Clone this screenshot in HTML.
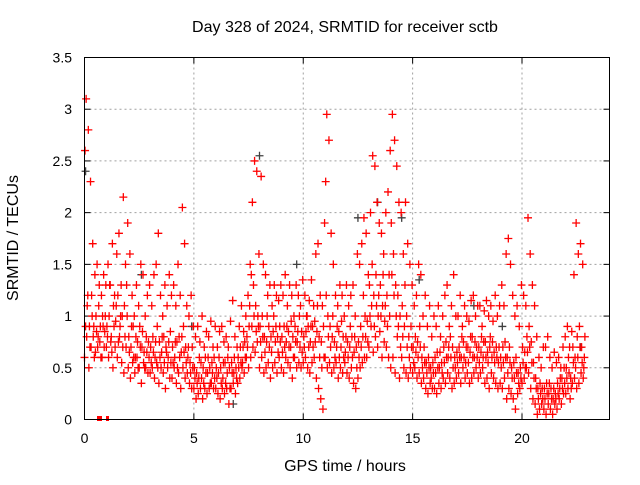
<!DOCTYPE html>
<html><head><meta charset="utf-8"><style>
body{margin:0;background:#fff}
svg text{font-family:"Liberation Sans",sans-serif;font-size:14px;fill:#000}
svg text.big{font-size:16px}
</style></head><body>
<svg id="chart" width="640" height="480" viewBox="0 0 640 480">
<rect width="640" height="480" fill="#fff"/>
<text class="big" x="345" y="32" text-anchor="middle">Day 328 of 2024, SRMTID for receiver sctb</text>
<text class="big" x="345" y="471" text-anchor="middle">GPS time / hours</text>
<text class="big" transform="translate(18,238) rotate(-90)" text-anchor="middle">SRMTID / TECUs</text>
<g id="grid"></g>
<g id="ticks"></g>
<g id="points"></g>
<rect x="84.5" y="57.5" width="525" height="362" fill="none" stroke="#000"/>
</svg>
<script>
const xTicks=[0,5,10,15,20];
const yTicks=[0,0.5,1,1.5,2,2.5,3,3.5];
const yTickLabels=["0","0.5","1","1.5","2","2.5","3","3.5"];
const vHigh=[3.1,2.8,2.3,1.7,1.4,1.5,1.3,1.2,1.4,1.3,
1.5,1.3,1.7,1.2,1.6,1.8,1.3,2.15,1.5,1.9,
1.6,1.2,1.0,1.3,1.1,1.5,1.4,1.0,1.2,1.3,
1.1,1.4,1.5,1.8,1.2,1.0,1.3,1.1,1.4,1.2,
1.3,1.1,1.5,1.2,2.05,1.7,1.1,1.0,1.2,0.9,
0.8,0.9,0.75,1.0,0.7,0.85,0.8,0.95,0.7,0.9,
0.7,0.85,0.9,0.75,0.8,0.7,0.95,1.15,0.8,0.7,
0.9,1.1,0.85,1.0,1.2,1.5,2.1,2.5,2.4,1.6,
2.35,1.5,1.4,1.2,1.3,1.1,1.3,1.2,1.15,1.3,
1.2,1.4,1.1,1.3,1.2,1.0,1.3,1.2,1.1,1.35,
1.2,1.0,1.15,1.35,1.1,1.6,1.7,1.2,1.1,1.9,
2.95,2.7,1.8,1.5,1.2,1.1,1.3,1.2,1.0,1.3,
1.1,1.2,1.3,1.0,1.6,1.5,1.7,1.95,1.8,1.4,
2.0,2.55,2.45,2.1,1.9,1.8,1.6,2.0,2.2,2.6,
2.95,2.7,2.45,2.1,2.0,1.6,2.1,1.7,1.5,1.3,
1.1,1.2,1.5,1.4,1.0,1.2,0.9,1.1,0.8,1.0,
0.9,1.1,0.8,1.0,1.2,1.3,0.9,1.1,1.4,1.0,
1.0,1.2,0.9,1.1,1.0,0.95,1.15,1.2,1.0,1.1,
1.1,0.9,1.05,1.15,1.0,1.1,0.95,1.2,1.0,1.1,
1.3,1.1,1.6,1.75,1.5,1.2,1.0,1.1,0.9,1.3,
1.2,1.1,1.95,1.6,1.3,1.1,0.8,0.6,0.5,0.7,
0.7,0.8,0.6,0.5,0.65,0.55,0.6,0.5,0.7,0.8,
0.9,0.7,0.85,1.4,1.9,1.6,1.7,1.5,0.8];
const vMid=[2.6,1.1,0.9,1.2,0.9,1.0,0.8,0.9,1.0,0.85,
0.9,1.0,0.8,1.1,0.95,1.2,0.9,1.0,1.1,1.3,
0.8,0.7,0.9,0.6,0.75,0.9,0.7,0.65,0.8,0.75,
0.7,0.8,0.6,0.9,0.75,0.65,0.8,0.7,0.6,0.85,
0.7,0.6,0.75,0.8,0.65,0.9,0.7,0.6,0.55,0.7,
0.5,0.45,0.4,0.55,0.5,0.6,0.45,0.5,0.55,0.6,
0.5,0.45,0.5,0.4,0.55,0.45,0.5,0.55,0.45,0.5,
0.6,0.7,0.55,0.75,0.8,0.9,1.4,1.3,1.1,1.0,
0.9,1.0,0.8,0.75,0.9,0.8,0.85,0.75,0.8,0.9,
0.8,0.9,0.75,0.85,0.7,0.8,0.9,0.75,1.0,0.85,
0.8,0.85,0.9,0.75,0.9,0.95,0.85,0.8,0.75,0.9,
2.3,1.0,0.9,0.8,0.75,0.7,0.85,0.7,0.8,0.65,
0.75,0.7,0.8,0.65,0.7,0.75,0.9,0.8,1.0,0.95,
1.3,1.1,1.2,1.4,1.0,1.3,1.1,0.95,1.2,1.4,
1.9,1.6,1.3,1.2,1.0,1.1,0.9,1.0,0.8,0.9,
0.7,0.8,0.75,0.9,0.6,0.7,0.55,0.6,0.5,0.55,
0.6,0.65,0.5,0.55,0.7,0.75,0.6,0.8,0.7,0.6,
0.65,0.7,0.6,0.75,0.55,0.7,0.65,0.8,0.6,0.7,
0.7,0.65,0.6,0.75,0.65,0.7,0.6,0.65,0.7,0.55,
0.6,0.7,0.75,0.6,0.7,0.5,0.55,0.6,0.45,0.5,
0.7,0.65,0.8,0.9,0.75,0.55,0.4,0.3,0.35,0.3,
0.3,0.35,0.25,0.3,0.2,0.25,0.35,0.3,0.4,0.5,
0.5,0.6,0.4,0.7,0.6,0.8,0.9,0.7,0.5];
const vMid2=[0.9,1.2,0.7,1.0,0.6,0.85,1.1,0.6,0.9,1.0,
0.8,1.3,0.65,0.9,1.1,0.75,1.0,0.7,0.8,1.0,
0.65,0.9,0.6,0.8,0.5,0.7,0.85,0.5,0.65,0.6,
0.55,0.65,0.75,0.5,0.6,0.8,0.55,0.65,0.75,0.55,
0.55,0.75,0.5,0.6,0.8,0.65,0.55,0.7,0.45,0.5,
0.4,0.35,0.6,0.4,0.35,0.45,0.6,0.35,0.45,0.4,
0.4,0.6,0.35,0.55,0.35,0.6,0.3,0.45,0.6,0.4,
0.5,0.55,0.7,0.6,0.7,1.1,0.9,1.0,0.85,0.9,
0.75,0.8,0.65,1.0,0.7,0.65,1.0,0.9,0.65,0.75,
0.65,0.7,0.9,0.7,0.95,0.6,0.75,0.85,0.7,0.65,
0.7,1.0,0.7,0.9,0.7,0.75,1.1,0.6,0.5,0.6,
1.2,0.8,0.7,1.0,0.6,0.9,0.6,0.95,0.6,0.8,
0.6,0.9,0.6,0.8,0.5,0.6,0.7,1.2,0.8,0.75,
1.0,1.5,0.9,1.1,1.2,1.0,1.4,1.1,0.9,1.0,
1.4,1.2,1.0,0.9,0.7,0.8,1.3,0.7,0.6,0.7,
0.55,0.65,0.6,0.7,0.5,0.55,0.45,0.5,0.4,0.45,
0.45,0.5,0.65,0.45,0.55,0.6,0.7,0.6,0.5,0.5,
0.55,0.6,0.8,0.6,0.7,0.55,0.8,0.6,0.75,0.6,
0.55,0.8,0.75,0.6,0.55,0.8,0.75,0.55,0.6,0.7,
0.5,0.55,0.6,0.45,0.55,0.4,0.4,0.45,0.35,0.4,
0.55,0.5,0.65,0.7,0.55,0.4,0.3,0.2,0.25,0.2,
0.2,0.25,0.35,0.2,0.3,0.2,0.25,0.4,0.3,0.35,
0.4,0.45,0.3,0.55,0.5,0.6,0.7,0.55,0.6];
const vLow=[0.6,0.8,0.5,0.7,0.8,0.65,0.7,0.75,0.6,0.7,
0.7,0.6,0.75,0.5,0.7,0.6,0.8,0.55,0.45,0.7,
0.5,0.4,0.55,0.45,0.6,0.5,0.35,0.55,0.5,0.45,
0.45,0.5,0.4,0.55,0.35,0.5,0.45,0.3,0.5,0.4,
0.4,0.5,0.35,0.45,0.3,0.5,0.4,0.45,0.35,0.3,
0.3,0.2,0.25,0.3,0.2,0.3,0.25,0.3,0.35,0.3,
0.3,0.25,0.2,0.3,0.25,0.3,0.15,0.3,0.35,0.25,
0.35,0.4,0.5,0.45,0.6,0.5,0.6,0.7,0.65,0.75,
0.5,0.6,0.45,0.5,0.55,0.4,0.5,0.55,0.45,0.6,
0.5,0.45,0.6,0.55,0.5,0.4,0.6,0.5,0.55,0.5,
0.55,0.6,0.5,0.45,0.55,0.6,0.4,0.3,0.2,0.1,
0.6,0.5,0.55,0.45,0.5,0.55,0.4,0.5,0.45,0.55,
0.45,0.4,0.5,0.35,0.3,0.4,0.5,0.55,0.6,0.6,
0.7,0.9,0.65,0.8,0.7,0.85,0.6,0.75,0.7,0.6,
0.5,0.6,0.45,0.8,0.4,0.6,0.5,0.45,0.4,0.5,
0.45,0.5,0.4,0.45,0.35,0.4,0.3,0.25,0.35,0.3,
0.3,0.25,0.35,0.3,0.4,0.35,0.45,0.4,0.3,0.35,
0.4,0.45,0.35,0.5,0.4,0.45,0.35,0.4,0.45,0.5,
0.4,0.45,0.5,0.35,0.4,0.3,0.45,0.4,0.35,0.3,
0.35,0.3,0.4,0.2,0.3,0.25,0.2,0.1,0.25,0.3,
0.35,0.4,0.5,0.45,0.3,0.2,0.15,0.05,0.1,0.15,
0.1,0.05,0.15,0.1,0.05,0.15,0.1,0.2,0.15,0.25,
0.25,0.3,0.2,0.35,0.4,0.3,0.35,0.45,0.4];
const grayTimes=[0.05,2.6,4.9,6.8,8.0,9.7,12.5,13.4,14.5,15.3,17.8,19.1,22.7];
const grayValues=[2.4,1.4,0.9,0.15,2.55,1.5,1.95,2.1,1.95,1.35,1.1,0.9,0.7];
const timeStep=0.1;

const X0=84.5,X1=609.5,Y0=419.5,Y1=57.5,XMAX=24,YMAX=3.5;
const xs=h=>X0+(X1-X0)*h/XMAX;
const ys=v=>Y0-(Y0-Y1)*v/YMAX;
const NS="http://www.w3.org/2000/svg";
const grid=document.getElementById('grid'),ticks=document.getElementById('ticks'),pts=document.getElementById('points');
function mk(tag,attrs,parent){const e=document.createElementNS(NS,tag);for(const k in attrs)e.setAttribute(k,attrs[k]);parent.appendChild(e);return e;}
xTicks.forEach((t,i)=>{
  const x=xs(t);
  if(i>0){const g=mk('line',{x1:x,x2:x,y1:Y0,y2:Y1,stroke:'#a0a0a0','stroke-dasharray':'2,3'},grid);
  
  }
  mk('line',{x1:x,x2:x,y1:Y0,y2:Y0-6,stroke:'#000'},ticks);
  mk('line',{x1:x,x2:x,y1:Y1,y2:Y1+6,stroke:'#000'},ticks);
  const tx=mk('text',{x:x,y:443,'text-anchor':'middle'},ticks);tx.textContent=String(t);
  
  
});
yTicks.forEach((t,i)=>{
  const y=ys(t);
  if(i>0&&i<yTicks.length-1){const g=mk('line',{x1:X0,x2:X1,y1:y,y2:y,stroke:'#a0a0a0','stroke-dasharray':'2,3'},grid);
  
  }
  mk('line',{x1:X0,x2:X0+6,y1:y,y2:y,stroke:'#000'},ticks);
  mk('line',{x1:X1,x2:X1-6,y1:y,y2:y,stroke:'#000'},ticks);
  const tx=mk('text',{x:72,y:y+5,'text-anchor':'end'},ticks);tx.textContent=yTickLabels[i];
  
  
});
function plus(h,v,color){
  const x=xs(h),y=ys(v);
  const p=mk('path',{d:`M${x-4},${y}h8M${x},${y-4}v8`,stroke:color,'stroke-width':1.3,fill:'none'},pts);
  
  
}
grayTimes.forEach((t,i)=>plus(t,grayValues[i],'#404040'));
[[vLow,0],[vMid2,0.05],[vMid,0.025],[vHigh,0.075]].forEach(([arr,off])=>{
  arr.forEach((v,i)=>plus(i*timeStep+off,v,'#ff0000'));
});
const z1=mk('rect',{x:97,y:416,width:5,height:5,fill:'#ff0000'},pts);


const z2=mk('rect',{x:106,y:416,width:3,height:5,fill:'#ff0000'},pts);


</script>
</body></html>
